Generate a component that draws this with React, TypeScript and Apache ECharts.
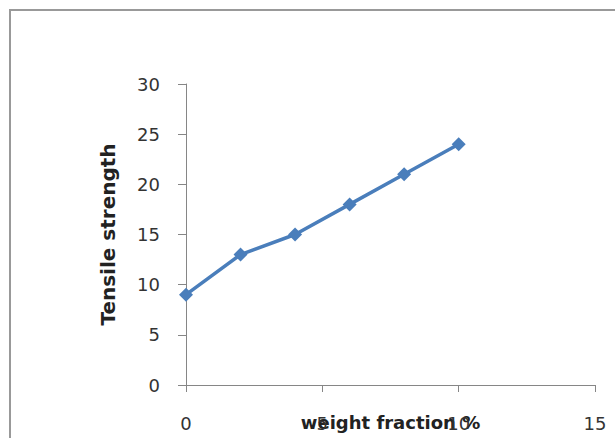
import React, { useEffect, useRef } from "react";
import * as echarts from "echarts";

const weightFraction = [0, 2, 4, 6, 8, 10];
const tensileStrength = [9, 13, 15, 18, 21, 24];
const xTitle = "weight fraction %";
const yTitle = "Tensile strength";

export default function App() {
  const ref = useRef<HTMLDivElement>(null);
  useEffect(() => {
    const chart = echarts.init(ref.current!, null, { renderer: "svg" });
    const font = "'DejaVu Sans', sans-serif";
    chart.setOption({
      animation: false,
      backgroundColor: "#ffffff",
      graphic: [
        {
          type: "rect",
          shape: { x: 10, y: 10, width: 620, height: 440 },
          style: { fill: "none", stroke: "#999999", lineWidth: 2 },
          silent: true,
        },
      ],
      grid: {
        left: 186,
        right: 20,
        top: 84,
        bottom: 53,
        containLabel: false,
        outerBoundsMode: "none",
      },
      xAxis: {
        type: "value",
        min: 0,
        max: 15,
        interval: 5,
        name: xTitle,
        nameLocation: "middle",
        nameGap: 28,
        nameMoveOverlap: false,
        nameTextStyle: { fontFamily: font, fontWeight: "bold", fontSize: 18, color: "#222" },
        axisLine: { show: true, lineStyle: { color: "#868686", width: 1 } },
        axisTick: { show: true, inside: false, length: 7, lineStyle: { color: "#868686" } },
        axisLabel: { fontFamily: font, fontSize: 18, color: "#333", margin: 29 },
        splitLine: { show: false },
      },
      yAxis: {
        type: "value",
        min: 0,
        max: 30,
        interval: 5,
        name: yTitle,
        nameLocation: "middle",
        nameGap: 68,
        nameMoveOverlap: false,
        nameRotate: 90,
        nameTextStyle: { fontFamily: font, fontWeight: "bold", fontSize: 20, color: "#222" },
        axisLine: { show: true, lineStyle: { color: "#868686", width: 1 } },
        axisTick: { show: true, length: 8, lineStyle: { color: "#868686" } },
        axisLabel: { fontFamily: font, fontSize: 18, color: "#333", margin: 26 },
        splitLine: { show: false },
      },
      series: [
        {
          type: "line",
          data: weightFraction.map((x, i) => [x, tensileStrength[i]]),
          symbol: "diamond",
          symbolSize: 14,
          lineStyle: { color: "#4a7ebb", width: 3.5 },
          itemStyle: { color: "#4a7ebb" },
        },
      ],
    });
    return () => chart.dispose();
  }, []);
  return (
    <div
      ref={ref}
      style={{ position: "absolute", left: 0, top: 0, width: 615, height: 438 }}
    />
  );
}
